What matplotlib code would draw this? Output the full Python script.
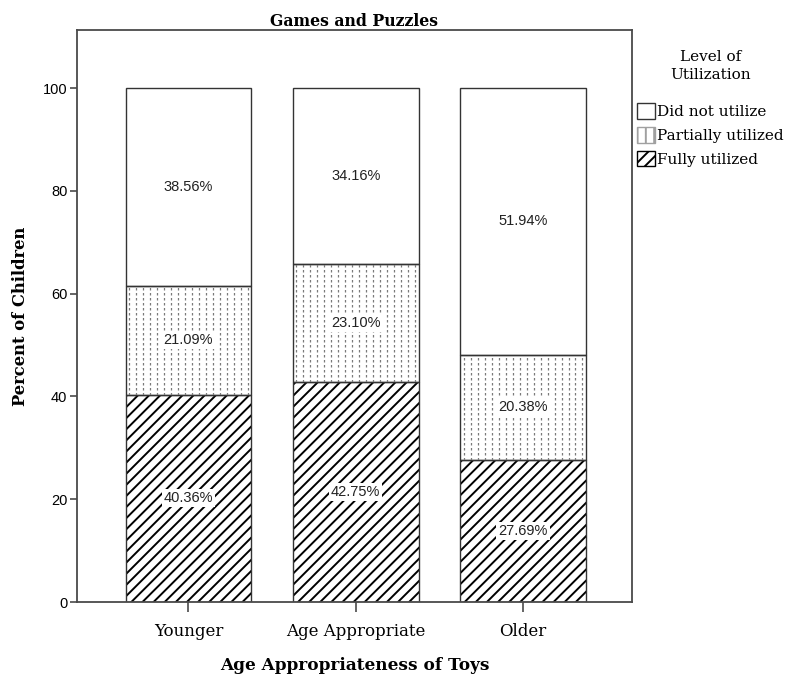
import numpy as np
import matplotlib
matplotlib.use("Agg")
import matplotlib.pyplot as plt
from matplotlib.patches import Patch

categories = ["Younger", "Age Appropriate", "Older"]
fully = [40.36, 42.75, 27.69]
partial = [21.09, 23.10, 20.38]
not_used = [38.56, 34.16, 51.94]
series_names = ["Did not utilize", "Partially utilized", "Fully utilized"]
yticks = [0, 20, 40, 60, 80, 100]

serif = "DejaVu Serif"
sans = "Liberation Sans"
frame_col = "#4a4a4a"

plt.rcParams["hatch.linewidth"] = 1.4

fig = plt.figure(figsize=(7.91, 6.77), dpi=100)
ax = fig.add_axes([77 / 791, 75 / 677, 555 / 791, 572 / 677])

x = np.arange(len(categories))
w = 0.75
full_arr = np.array(fully)
part_arr = np.array(partial)
not_arr = np.array(not_used)

# fully utilized - diagonal hatch
ax.bar(x, full_arr, w, color="white", edgecolor="black", hatch="///", linewidth=0)
# partially utilized - white, dotted vertical lines added below
part_bars = ax.bar(x, part_arr, w, bottom=full_arr, color="white", linewidth=0)
ax.bar(x, not_arr, w, bottom=full_arr + part_arr, color="white", linewidth=0)

# dotted texture for the partial segments
step = w / 18
for p in part_bars:
    x0, y0 = p.get_x(), p.get_y()
    xs = np.arange(x0 + step / 2, x0 + p.get_width(), step)
    lc = ax.vlines(xs, y0, y0 + p.get_height(), colors="#7a7a7a",
                   linestyles=(0, (2, 2)), linewidth=0.9)
    lc.set_clip_path(p)

# outlines
for bottoms, vals in [(0, full_arr), (full_arr, part_arr), (full_arr + part_arr, not_arr)]:
    ax.bar(x, vals, w, bottom=bottoms, fill=False, edgecolor="#333333", linewidth=1.0)

# value labels
for bottoms, vals in [(0, full_arr), (full_arr, part_arr), (full_arr + part_arr, not_arr)]:
    centers = np.zeros(len(x)) + bottoms + vals / 2
    for xi, c, v in zip(x, centers, vals):
        ax.text(xi, c, "{:.2f}%".format(v), ha="center", va="center",
                fontsize=10.5, family=sans, color="#222222", zorder=5,
                bbox=dict(facecolor="white", edgecolor="none", pad=1.5))

ax.set_xlim(-0.665, 2.65)
ax.set_ylim(0, 111.3)
ax.set_yticks(yticks)
ax.set_yticklabels([str(t) for t in yticks], family=sans, fontsize=10.5)
ax.set_xticks(x)
ax.set_xticklabels(categories, family=serif, fontsize=12)
ax.tick_params(axis="y", length=5, width=1.2, color=frame_col, pad=2)
ax.tick_params(axis="x", length=7, width=1.2, color=frame_col, pad=8)
for s in ax.spines.values():
    s.set_color(frame_col)
    s.set_linewidth(1.3)

ax.set_title("Games and Puzzles", family=serif, fontweight="bold", fontsize=11.3, pad=3)
ax.set_ylabel("Percent of Children", family=serif, fontweight="bold", fontsize=11.8, labelpad=10)
ax.set_xlabel("Age Appropriateness of Toys", family=serif, fontweight="bold", fontsize=12.2, labelpad=12)

handles = [
    Patch(facecolor="white", edgecolor="#333333", linewidth=1.0),
    Patch(facecolor="white", edgecolor="#a0a0a0", hatch="||", linewidth=1.0),
    Patch(facecolor="white", edgecolor="black", hatch="///", linewidth=1.0),
]
leg = fig.legend(handles, series_names, loc="upper left",
                 bbox_to_anchor=(634 / 791, 1 - 47 / 677), frameon=False,
                 title="Level of\nUtilization",
                 prop={"family": serif, "size": 11},
                 handlelength=1.2, handleheight=1.2, handletextpad=0.1,
                 labelspacing=0.5, borderaxespad=0, borderpad=0.2)
leg.get_title().set_fontfamily(serif)
leg.get_title().set_fontsize(11)
leg.get_title().set_multialignment("center")
leg.get_title().set_linespacing(1.4)
leg._legend_box.sep = 15

fig.savefig("out.png", dpi=100)
